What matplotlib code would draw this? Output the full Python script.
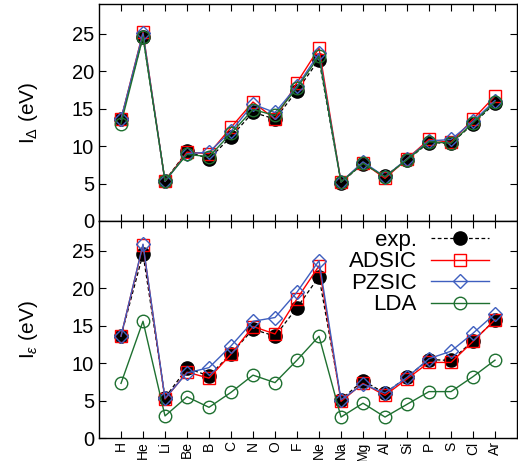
import matplotlib
matplotlib.use("Agg")
import matplotlib.pyplot as plt
import numpy as np

plt.rcParams['font.family'] = ['Liberation Sans', 'DejaVu Sans']
plt.rcParams['mathtext.fontset'] = 'custom'
plt.rcParams['mathtext.rm'] = 'Liberation Sans'
plt.rcParams['mathtext.it'] = 'Liberation Sans:italic'

elements = ["H", "He", "Li", "Be", "B", "C", "N", "O", "F", "Ne",
            "Na", "Mg", "Al", "Si", "P", "S", "Cl", "Ar"]

exp_vals = [13.6, 24.6, 5.39, 9.32, 8.30, 11.26, 14.53, 13.62, 17.42, 21.56,
            5.14, 7.65, 5.99, 8.15, 10.49, 10.36, 12.97, 15.76]

# Top panel: I_Delta
adsic_d = [13.6, 25.2, 5.3, 9.2, 9.0, 12.5, 15.9, 13.6, 18.5, 23.1,
           5.2, 7.8, 5.7, 8.3, 10.9, 10.5, 13.6, 16.7]
pzsic_d = [13.6, 25.1, 5.3, 9.0, 9.2, 12.0, 15.6, 14.5, 18.0, 22.4,
           5.2, 7.9, 5.9, 8.3, 10.7, 10.9, 13.3, 16.1]
lda_d = [13.0, 24.6, 5.4, 8.9, 8.6, 11.7, 14.9, 14.1, 17.8, 22.0,
         5.2, 7.7, 5.9, 8.2, 10.6, 10.4, 13.1, 15.9]

# Bottom panel: I_epsilon
adsic_e = [13.6, 25.8, 5.2, 8.8, 8.0, 11.2, 14.9, 13.9, 18.6, 23.0,
           4.9, 7.3, 5.7, 7.9, 10.1, 10.1, 12.9, 15.8]
pzsic_e = [13.6, 25.9, 5.3, 8.7, 9.4, 12.3, 15.6, 16.1, 19.5, 23.7,
           5.1, 7.2, 6.0, 8.1, 10.6, 11.6, 14.0, 16.6]
lda_e = [7.3, 15.6, 2.95, 5.5, 4.1, 6.1, 8.4, 7.4, 10.4, 13.6,
         2.8, 4.65, 2.8, 4.5, 6.2, 6.2, 8.2, 10.4]

x = np.arange(1, len(elements) + 1)

fig = plt.figure(figsize=(5.18, 4.61), dpi=100)
L, R = 99 / 518, 517 / 518
ax1 = fig.add_axes([L, 1 - 221 / 461, R - L, (221 - 4) / 461])
ax2 = fig.add_axes([L, 1 - 438 / 461, R - L, (438 - 221) / 461])

red = '#ff0000'
blue = '#3f5fbf'
green = '#1e7030'

def draw(ax, ad, pz, ld):
    ax.plot(x, exp_vals, ls='--', dashes=(3, 2), color='black', lw=0.9,
            marker='o', ms=9.5, mfc='black', mec='black', label='exp.')
    ax.plot(x, ad, ls='-', color=red, lw=1.0, marker='s', ms=8.5,
            mfc='none', mec=red, mew=1.0, label='ADSIC')
    ax.plot(x, pz, ls='-', color=blue, lw=1.0, marker='D', ms=7.5,
            mfc='none', mec=blue, mew=1.0, label='PZSIC')
    ax.plot(x, ld, ls='-', color=green, lw=1.0, marker='o', ms=9,
            mfc='none', mec=green, mew=1.0, label='LDA')
    ax.set_xlim(0, 19)
    ax.set_ylim(0, 29)
    ax.set_xticks(x)
    ax.set_yticks([0, 5, 10, 15, 20, 25])
    ax.tick_params(direction='in', top=True, right=True, length=5, width=0.8,
                   labelsize=14.5)
    for s in ax.spines.values():
        s.set_linewidth(1.0)

draw(ax1, adsic_d, pzsic_d, lda_d)
draw(ax2, adsic_e, pzsic_e, lda_e)

ax1.set_xticklabels([])
ax2.set_xticklabels(elements, rotation=90, fontsize=10)
ax2.tick_params(axis='x', pad=2.5)

ax1.set_ylabel(r'I$_\Delta$ (eV)', fontsize=15)
ax2.set_ylabel(r'I$_\varepsilon$ (eV)', fontsize=15)
ax1.yaxis.set_label_coords(-0.14, 0.5)
ax2.yaxis.set_label_coords(-0.14, 0.5)

leg = ax2.legend(loc='upper right', bbox_to_anchor=(0.965, 1.02), frameon=False,
                 markerfirst=False, fontsize=16, handlelength=2.6,
                 handletextpad=0.65, labelspacing=0.02, borderaxespad=0.2)

fig.savefig('out.png', dpi=100)
